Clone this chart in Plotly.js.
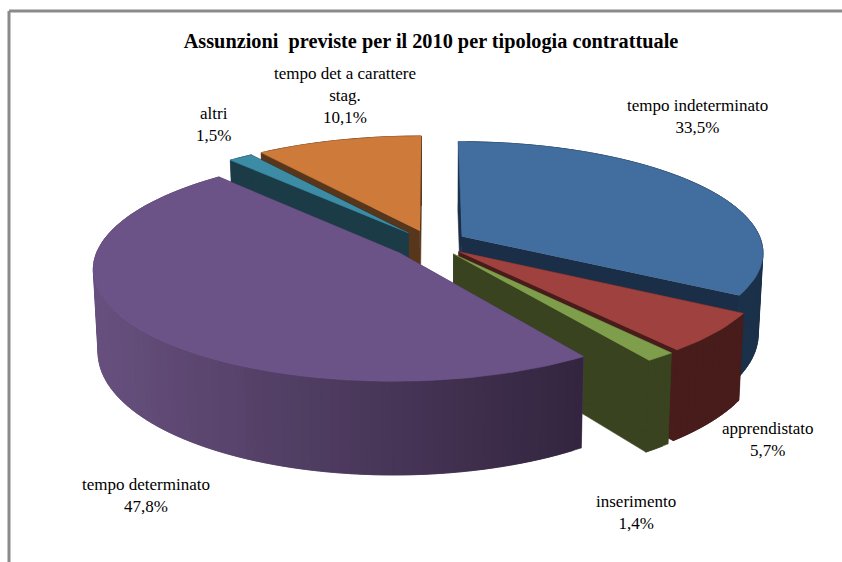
<!DOCTYPE html>
<html>
<head>
<meta charset="utf-8">
<script src="https://cdn.plot.ly/plotly-3.0.1.min.js"></script>
<style>html,body{margin:0;padding:0;background:#fff}#chart{width:842px;height:562px}</style>
</head>
<body>
<div id="chart"></div>
<script>
// Hiring forecast for 2010 by contract type, as an exploded tilted pie.
const categories = ['tempo indeterminato', 'apprendistato', 'inserimento', 'tempo determinato', 'altri', 'tempo det a carattere stag.'];
const shares = [33.5, 5.7, 1.4, 47.8, 1.5, 10.1];
const labelLines = ['tempo indeterminato', 'apprendistato', 'inserimento', 'tempo determinato', 'altri', 'tempo det a carattere<br>stag.'];
const labelX = [697, 768, 636, 146, 213, 345];
const labelY = [116, 439, 512, 495, 124, 95];
const topColors = ['#426d9f', '#9f413e', '#7e9e4b', '#6b5388', '#3c8ca6', '#ce7a3a'];
const faceColors = ['#1b2e47', '#471c1a', '#39431f', '#4c3a60', '#1b3b47', '#58361b'];
const rimStart = ['#1b3049', '#471c1a', '#39431f', '#33253f', '#1b3b47', '#58361b'];
const rimEnd = ['#1b3049', '#471c1a', '#39431f', '#67507e', '#1b3b47', '#58361b'];
const explodePx = [36, 36, 37, 41, 36, 36];
const radiusPx = [300, 302, 302, 298, 302, 304];
const paintOrder = [5, 4, 0, 1, 2, 3];

// Projection of the pie plate: plate units are pixels at mid depth.
const CX = 431, CY = 243, TILT = 0.365, PERSP = 0.14, DEPTH = 80, CONVERGE = 0.014, REF_R = 308;

function project(u, v, z) {
  const f = 1 / (1 + PERSP * v / REF_R);
  return [CX + u * f * (1 - CONVERGE * z), CY - v * TILT * f + z * DEPTH * f];
}
function hexMix(a, b, t) {
  const p = s => [1, 3, 5].map(i => parseInt(s.substr(i, 2), 16));
  const A = p(a), B = p(b);
  return 'rgb(' + A.map((c, i) => Math.round(c + (B[i] - c) * t)).join(',') + ')';
}
function polygon(points, color) {
  return {
    type: 'scatter', mode: 'lines', fill: 'toself', fillcolor: color,
    x: points.map(p => p[0]), y: points.map(p => p[1]),
    line: {color: color, width: 0.6}, hoverinfo: 'skip', showlegend: false
  };
}

const total = shares.reduce((a, b) => a + b, 0);
const bounds = [];
let running = 0;
shares.forEach(s => {
  const a0 = running / total * 2 * Math.PI;
  running += s;
  bounds.push([a0, running / total * 2 * Math.PI]);
});

const traces = [];
paintOrder.forEach(i => {
  const [a0, a1] = bounds[i];
  const mid = (a0 + a1) / 2;
  const R = radiusPx[i];
  const au = explodePx[i] * Math.sin(mid), av = explodePx[i] * Math.cos(mid);
  const rim = t => [au + R * Math.sin(t), av + R * Math.cos(t)];
  const steps = Math.max(4, Math.ceil((a1 - a0) / 0.03));
  const angles = [];
  for (let k = 0; k <= steps; k++) angles.push(a0 + (a1 - a0) * k / steps);

  // cut faces on both sides of the slice
  [a1, a0].forEach(t => {
    const r = rim(t);
    traces.push(polygon([project(au, av, 0), project(r[0], r[1], 0), project(r[0], r[1], 1), project(au, av, 1)], faceColors[i]));
  });

  // outer wall, shaded in vertical strips that overlap their neighbour
  const xs = angles.map(t => project(...rim(t), 0)[0]);
  const minX = Math.min(...xs), maxX = Math.max(...xs);
  for (let k = 0; k < steps; k++) {
    const p = rim(angles[k]), q = rim(angles[Math.min(k + 2, steps)]);
    const mixT = maxX > minX ? 1 - (xs[k] - minX) / (maxX - minX) : 0;
    traces.push(polygon([project(p[0], p[1], 0), project(q[0], q[1], 0), project(q[0], q[1], 1), project(p[0], p[1], 1)], hexMix(rimStart[i], rimEnd[i], mixT)));
  }

  // top surface
  const top = [project(au, av, 0)].concat(angles.map(t => project(...rim(t), 0)));
  traces.push(polygon(top, topColors[i]));
});

const serif = 'Liberation Serif, Times New Roman, serif';
const annotations = categories.map((c, i) => ({
  x: labelX[i], y: labelY[i], xref: 'x', yref: 'y', showarrow: false,
  xanchor: 'center', yanchor: 'middle', align: 'center',
  text: labelLines[i] + '<br>' + shares[i].toFixed(1).replace('.', ',') + '%',
  font: {family: serif, size: 17, color: '#000'}
}));

const layout = {
  width: 842, height: 562,
  margin: {l: 0, r: 0, t: 0, b: 0},
  paper_bgcolor: '#fff', plot_bgcolor: '#fff',
  showlegend: false,
  title: {
    text: '<b>Assunzioni\u00a0 previste per il 2010 per tipologia contrattuale</b>',
    x: 431 / 842, xanchor: 'center', y: 1 - 41 / 562, yanchor: 'middle',
    font: {family: serif, size: 20.3, color: '#000'}
  },
  xaxis: {range: [0, 842], visible: false, fixedrange: true},
  yaxis: {range: [562, 0], visible: false, fixedrange: true},
  shapes: [
    {type: 'line', xref: 'paper', yref: 'paper', x0: 9 / 842, x1: 1, y0: 1 - 11 / 562, y1: 1 - 11 / 562, line: {color: '#8a8a8a', width: 3}},
    {type: 'line', xref: 'paper', yref: 'paper', x0: 9 / 842, x1: 9 / 842, y0: 1 - 11 / 562, y1: 0, line: {color: '#8a8a8a', width: 3}}
  ],
  annotations: annotations
};
Plotly.newPlot('chart', traces, layout, {displayModeBar: false, staticPlot: true});
</script>
</body>
</html>
